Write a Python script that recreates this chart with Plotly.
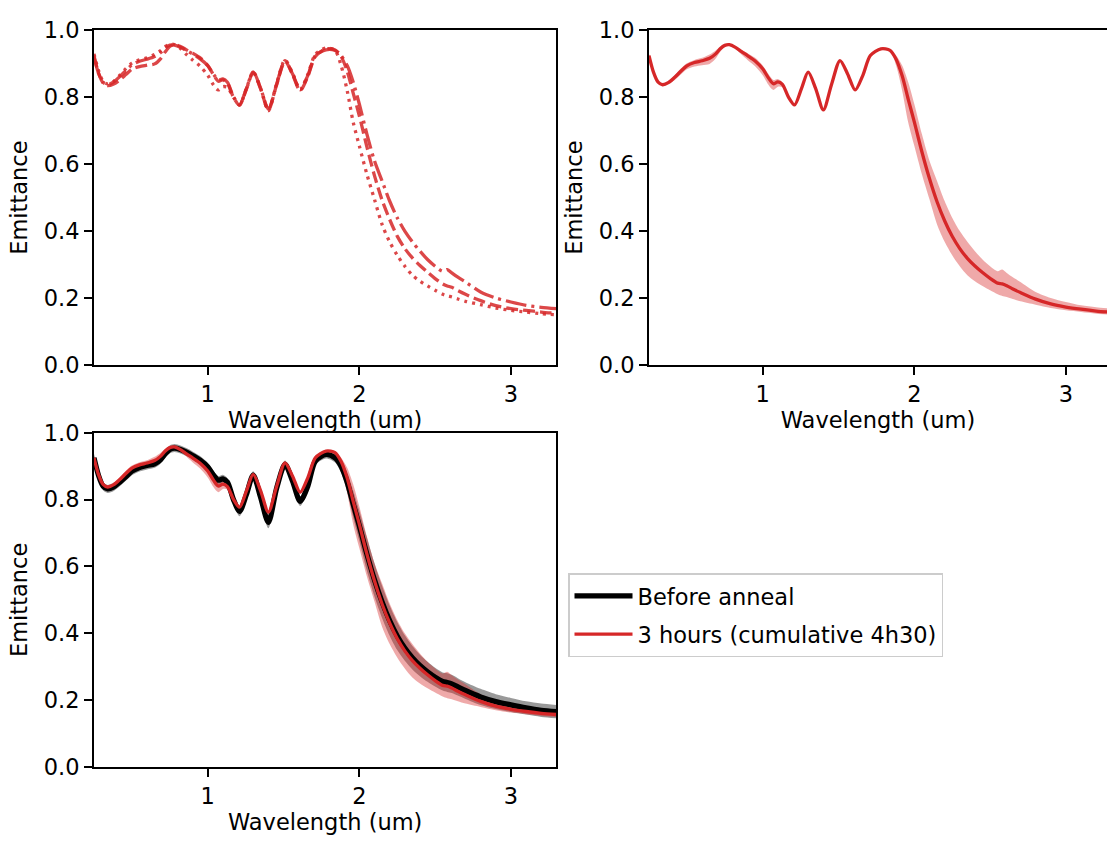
import numpy as np
import plotly.graph_objects as go

# Wavelength grid (um)
wavelength = [0.25, 0.28, 0.31, 0.34, 0.38, 0.42, 0.46, 0.50, 0.55, 0.60,
              0.65, 0.69, 0.72, 0.75, 0.78, 0.82, 0.86, 0.90, 0.95, 1.00,
              1.04, 1.07, 1.10, 1.13, 1.17, 1.21, 1.255, 1.30, 1.35, 1.40,
              1.455, 1.51, 1.56, 1.61, 1.66, 1.71, 1.78, 1.84, 1.88, 1.92,
              1.96, 2.00, 2.05, 2.10, 2.15, 2.20, 2.25, 2.30, 2.35, 2.40,
              2.45, 2.50, 2.55, 2.58, 2.61, 2.65, 2.70, 2.80, 2.90, 3.00,
              3.10, 3.20, 3.30]

# Three measurements after the 3 h anneal
run_dotted = [0.930, 0.880, 0.848, 0.840, 0.848, 0.866, 0.886, 0.902, 0.912, 0.918,
              0.928, 0.940, 0.952, 0.958, 0.958, 0.946, 0.928, 0.912, 0.893, 0.866,
              0.836, 0.822, 0.832, 0.830, 0.800, 0.777, 0.826, 0.876, 0.826, 0.760,
              0.842, 0.912, 0.872, 0.822, 0.868, 0.928, 0.948, 0.940, 0.895, 0.820,
              0.725, 0.655, 0.570, 0.495, 0.420, 0.368, 0.328, 0.295, 0.268, 0.250,
              0.236, 0.223, 0.211, 0.206, 0.203, 0.197, 0.190, 0.180, 0.170, 0.163,
              0.158, 0.153, 0.150]
run_dashed = [0.925, 0.872, 0.843, 0.835, 0.840, 0.852, 0.868, 0.884, 0.892, 0.896,
              0.900, 0.916, 0.936, 0.952, 0.958, 0.952, 0.942, 0.932, 0.918, 0.895,
              0.866, 0.848, 0.852, 0.842, 0.800, 0.777, 0.824, 0.874, 0.824, 0.762,
              0.838, 0.908, 0.868, 0.820, 0.862, 0.922, 0.945, 0.942, 0.922, 0.878,
              0.812, 0.745, 0.652, 0.566, 0.493, 0.435, 0.385, 0.348, 0.320, 0.297,
              0.277, 0.258, 0.242, 0.236, 0.232, 0.222, 0.211, 0.192, 0.177, 0.168,
              0.163, 0.158, 0.154]
run_dashdot = [0.920, 0.872, 0.845, 0.838, 0.846, 0.862, 0.880, 0.897, 0.908, 0.914,
               0.922, 0.934, 0.948, 0.956, 0.956, 0.950, 0.940, 0.930, 0.915, 0.895,
               0.868, 0.852, 0.855, 0.845, 0.802, 0.778, 0.826, 0.876, 0.826, 0.765,
               0.840, 0.910, 0.870, 0.824, 0.865, 0.925, 0.942, 0.940, 0.925, 0.895,
               0.845, 0.780, 0.690, 0.610, 0.550, 0.490, 0.440, 0.400, 0.368, 0.340,
               0.315, 0.295, 0.280, 0.285, 0.275, 0.262, 0.248, 0.218, 0.200, 0.188,
               0.178, 0.172, 0.168]

# Before anneal: mean and spread of its measurements
before_mean = [0.925, 0.872, 0.840, 0.832, 0.838, 0.852, 0.868, 0.885, 0.896, 0.902,
               0.907, 0.920, 0.937, 0.950, 0.954, 0.950, 0.942, 0.932, 0.918, 0.898,
               0.872, 0.858, 0.862, 0.852, 0.800, 0.765, 0.815, 0.873, 0.805, 0.732,
               0.835, 0.905, 0.855, 0.795, 0.840, 0.915, 0.935, 0.925, 0.900, 0.852,
               0.786, 0.722, 0.637, 0.560, 0.494, 0.438, 0.392, 0.356, 0.327, 0.304,
               0.285, 0.269, 0.256, 0.253, 0.249, 0.240, 0.229, 0.210, 0.196, 0.186,
               0.177, 0.170, 0.166]
before_spread = [0.012, 0.012, 0.012, 0.012, 0.012, 0.012, 0.012, 0.012, 0.012, 0.012,
                 0.012, 0.012, 0.012, 0.012, 0.012, 0.012, 0.012, 0.012, 0.012, 0.012,
                 0.012, 0.012, 0.012, 0.012, 0.013, 0.015, 0.013, 0.012, 0.014, 0.018,
                 0.013, 0.012, 0.012, 0.014, 0.012, 0.012, 0.012, 0.014, 0.020, 0.030,
                 0.040, 0.045, 0.050, 0.050, 0.048, 0.045, 0.042, 0.038, 0.035, 0.032,
                 0.030, 0.028, 0.027, 0.028, 0.027, 0.026, 0.025, 0.024, 0.022, 0.021,
                 0.020, 0.020, 0.020]

RED = "#d62728"
RED_BAND = "rgba(214,39,40,0.4)"
GREY_BAND = "rgba(0,0,0,0.4)"
FONT = "DejaVu Sans"
FS = 22.5

runs = np.array([run_dotted, run_dashed, run_dashdot])
after_mean = runs.mean(axis=0)
after_lo = runs.min(axis=0)
after_hi = runs.max(axis=0)
before_lo = np.array(before_mean) - np.array(before_spread)
before_hi = np.array(before_mean) + np.array(before_spread)

fig = go.Figure()


def add_band(lo, hi, color, xa, ya):
    fig.add_trace(go.Scatter(x=wavelength, y=hi, mode="lines", xaxis=xa, yaxis=ya,
                             line=dict(width=0, shape="spline", smoothing=0.8),
                             showlegend=False, hoverinfo="skip"))
    fig.add_trace(go.Scatter(x=wavelength, y=lo, mode="lines", xaxis=xa, yaxis=ya,
                             line=dict(width=0, shape="spline", smoothing=0.8),
                             fill="tonexty", fillcolor=color,
                             showlegend=False, hoverinfo="skip"))


# Panel 1: individual measurements
for series, dash in [(run_dotted, "3px,5px"),
                     (run_dashed, "12px,5px"),
                     (run_dashdot, "21px,5px,3px,5px")]:
    fig.add_trace(go.Scatter(x=wavelength, y=series, mode="lines", xaxis="x", yaxis="y",
                             line=dict(color="rgba(214,39,40,0.85)", width=3.3, dash=dash,
                                       shape="spline", smoothing=0.8),
                             showlegend=False))

# Panel 2: mean with min/max band
add_band(after_lo, after_hi, RED_BAND, "x2", "y2")
fig.add_trace(go.Scatter(x=wavelength, y=after_mean, mode="lines", xaxis="x2", yaxis="y2",
                         line=dict(color=RED, width=3.3, shape="spline", smoothing=0.8),
                         showlegend=False))

# Panel 3: before vs after
add_band(before_lo, before_hi, GREY_BAND, "x3", "y3")
add_band(after_lo, after_hi, RED_BAND, "x3", "y3")
fig.add_trace(go.Scatter(x=wavelength, y=before_mean, mode="lines", xaxis="x3", yaxis="y3",
                         name="Before anneal", legendgroup="before",
                         line=dict(color="black", width=5.3, shape="spline", smoothing=0.8)))
fig.add_trace(go.Scatter(x=wavelength, y=after_mean, mode="lines", xaxis="x3", yaxis="y3",
                         name="3 hours (cumulative 4h30)", legendgroup="after",
                         line=dict(color=RED, width=3.3, shape="spline", smoothing=0.8)))

W, H = 1107, 847


def xaxis(left, right, rng, anchor):
    return dict(domain=[left / W, right / W], range=rng, anchor=anchor,
                tickvals=[1, 2, 3], ticktext=["1", "2", "3"],
                ticks="outside", ticklen=8, tickwidth=1.8, tickcolor="black",
                showline=True, linewidth=1.8, linecolor="black", mirror=True,
                showgrid=False, zeroline=False,
                tickfont=dict(family=FONT, size=FS, color="black"),
                title=dict(text="Wavelength (um)", standoff=6,
                           font=dict(family=FONT, size=FS, color="black")))


def yaxis(top, bottom, anchor, mirror=True):
    return dict(domain=[1 - bottom / H, 1 - top / H], range=[0, 1], anchor=anchor,
                tickvals=[0, 0.2, 0.4, 0.6, 0.8, 1.0],
                ticktext=["0.0", "0.2", "0.4", "0.6", "0.8", "1.0"],
                ticks="outside", ticklen=8, tickwidth=1.8, tickcolor="black",
                showline=True, linewidth=1.8, linecolor="black", mirror=mirror,
                showgrid=False, zeroline=False,
                tickfont=dict(family=FONT, size=FS, color="black"),
                title=dict(text="Emittance", standoff=10,
                           font=dict(family=FONT, size=FS, color="black")))


fig.update_layout(
    width=W, height=H,
    margin=dict(l=0, r=0, t=0, b=0),
    paper_bgcolor="white", plot_bgcolor="white",
    font=dict(family=FONT, size=FS, color="black"),
    xaxis=xaxis(94, 556.4, [0.25, 3.3], "y"),
    yaxis=yaxis(18, 363, "x"),
    xaxis2=xaxis(649, W, [0.25, 0.25 + (W - 649) / 151.6], "y2"),
    yaxis2=yaxis(18, 363, "x2", mirror=False),
    xaxis3=xaxis(94, 556.4, [0.25, 3.3], "y3"),
    yaxis3=yaxis(433, 778, "x3"),
    legend=dict(x=568 / W, y=1 - 578 / H, xanchor="left", yanchor="top",
                bgcolor="white", bordercolor="#cccccc", borderwidth=1.5,
                font=dict(family=FONT, size=FS, color="black"),
                traceorder="grouped", tracegroupgap=6,
                itemwidth=58),
    showlegend=True,
)

fig.write_html("out.html")
